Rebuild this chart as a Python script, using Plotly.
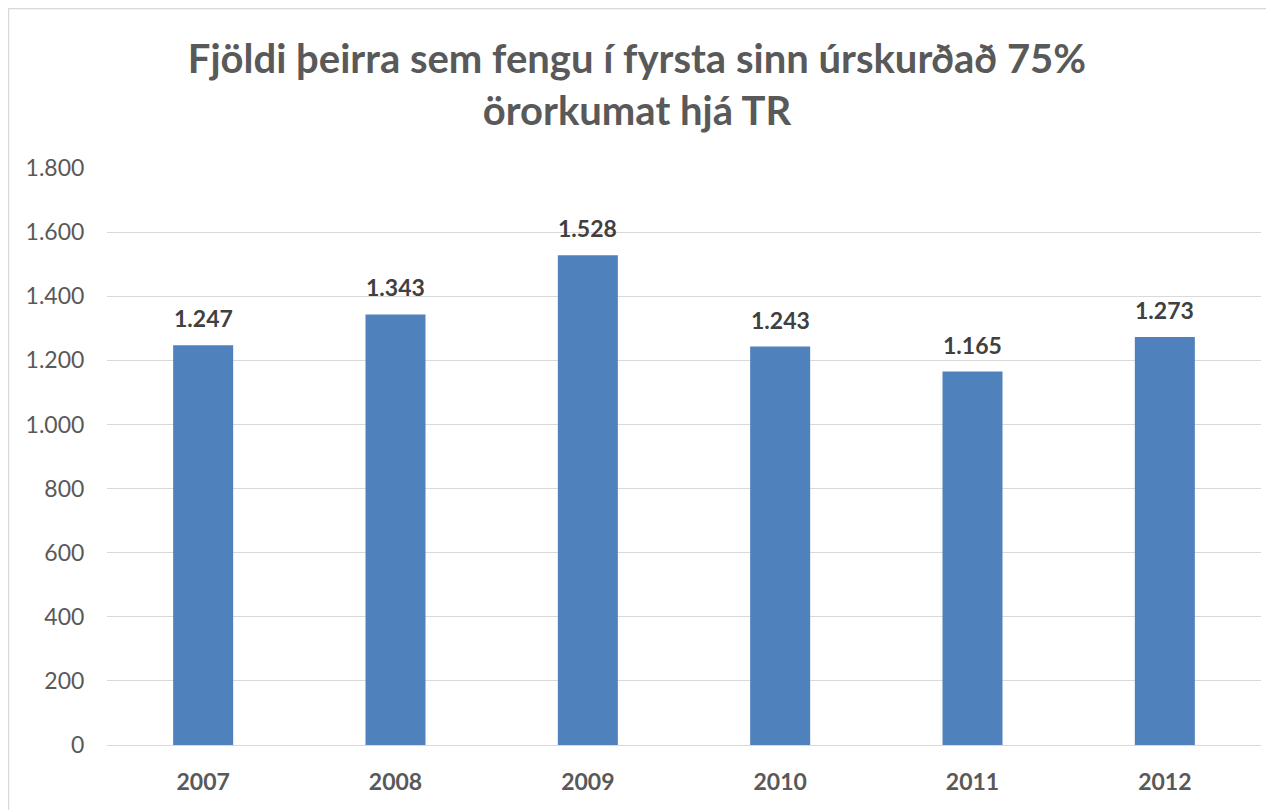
import plotly.graph_objects as go

years = ["2007", "2008", "2009", "2010", "2011", "2012"]
counts = [1247, 1343, 1528, 1243, 1165, 1273]
y_ticks = [0, 200, 400, 600, 800, 1000, 1200, 1400, 1600, 1800]

FONT = "Lato, Carlito, Calibri, sans-serif"
BAR = "#4F81BD"

fig = go.Figure()
fig.add_trace(go.Bar(
    x=years, y=counts, marker=dict(color=BAR, line=dict(width=0)),
))

# numeric-looking category names are read as numbers by annotations,
# so place the labels by category index
for i, v in enumerate(counts):
    fig.add_annotation(
        x=i, y=v, xref="x", yref="y",
        text=f"{v:,}".replace(",", "."), showarrow=False,
        yshift=27, yanchor="middle",
        font=dict(family=FONT, size=23, color="#404040", weight="bold"),
    )

fig.update_layout(
    width=1274, height=810,
    margin=dict(l=99, r=21, t=160, b=73, autoexpand=False),
    paper_bgcolor="white", plot_bgcolor="white",
    separators=",.",
    bargap=0.688,
    showlegend=False,
    title=dict(
        text="Fjöldi þeirra sem fengu í fyrsta sinn úrskurðað 75%<br>örorkumat hjá TR",
        x=0.4937, xref="container", xanchor="center",
        y=0.92, yref="container", yanchor="middle",
        font=dict(family=FONT, size=40, color="#595959", weight="bold"),
    ),
    xaxis=dict(
        type="category", categoryorder="array", categoryarray=years,
        range=[-0.5, len(years) - 0.5],
        showgrid=False, showline=False,
        ticks="outside", ticklen=16, tickcolor="rgba(0,0,0,0)",
        tickfont=dict(family=FONT, size=23, color="#595959", weight="bold"),
    ),
    yaxis=dict(
        range=[0, 1800], tickvals=y_ticks, tickformat=",",
        showgrid=True, gridcolor="#D9D9D9", gridwidth=1.3,
        zeroline=True, zerolinecolor="#D9D9D9", zerolinewidth=1.3,
        showline=False,
        ticks="outside", ticklen=17, tickcolor="rgba(0,0,0,0)",
        tickfont=dict(family=FONT, size=23, color="#595959"),
    ),
    shapes=[dict(
        type="rect", xref="paper", yref="paper",
        x0=-0.0854, x1=1.05, y0=-0.2, y1=1.2764,
        line=dict(color="#D9D9D9", width=1.5), fillcolor="rgba(0,0,0,0)",
        layer="below",
    )],
)

fig.write_html("out.html")
